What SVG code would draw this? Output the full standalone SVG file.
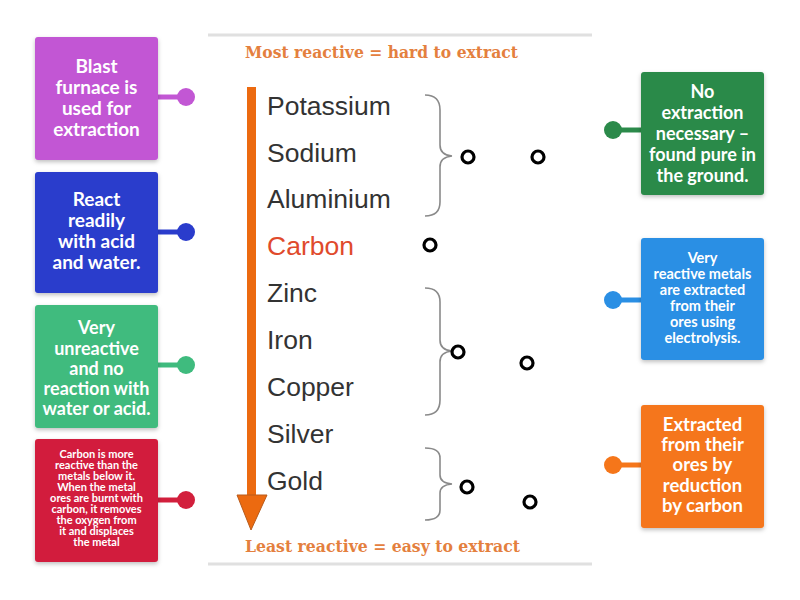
<svg xmlns="http://www.w3.org/2000/svg" width="800" height="600" viewBox="0 0 800 600">
<defs>
<filter id="sh" x="-10%" y="-10%" width="120%" height="125%"><feDropShadow dx="0" dy="2" stdDeviation="2" flood-color="#000" flood-opacity="0.25"/></filter>
</defs>
<style>
.box{filter:url(#sh)}
.bt{font-family:Lato,"Open Sans",sans-serif;font-weight:bold;fill:#fff;text-anchor:middle}
.el{font-family:"Liberation Sans",Arial,sans-serif;font-size:26.5px;fill:#333}
.hd{font-family:"DejaVu Serif","Liberation Serif",serif;font-weight:bold;font-size:16px;fill:#e4803e}
.br{fill:none;stroke:#8a8a8a;stroke-width:1.6}
.ring{fill:#fff;stroke:#000;stroke-width:3.2}
.con{stroke-width:5}
</style>
<rect width="800" height="600" fill="#fff"/>

<g id="panel">
<line x1="208" y1="35" x2="592" y2="35" stroke="#e0e0e0" stroke-width="3"/>
<line x1="208" y1="564" x2="592" y2="564" stroke="#e0e0e0" stroke-width="3"/>
<text class="hd" x="245" y="58" textLength="273" lengthAdjust="spacingAndGlyphs">Most reactive = hard to extract</text>
<text class="hd" x="245" y="552" textLength="275" lengthAdjust="spacingAndGlyphs">Least reactive = easy to extract</text>
<rect x="247" y="87" width="9" height="410" fill="#ec6a10"/>
<polygon points="237,495 267,495 251,530" fill="#ec6a10" stroke="#b85a1a" stroke-width="1"/>
<text class="el" x="267" y="115">Potassium</text>
<text class="el" x="267" y="162">Sodium</text>
<text class="el" x="267" y="208">Aluminium</text>
<text class="el" x="267" y="255" style="fill:#e04a2c">Carbon</text>
<text class="el" x="267" y="302">Zinc</text>
<text class="el" x="267" y="349">Iron</text>
<text class="el" x="267" y="396">Copper</text>
<text class="el" x="267" y="443">Silver</text>
<text class="el" x="267" y="490">Gold</text>
<path class="br" d="M425,95 Q440,95 440,110 L440,145 Q440,155 452,156 Q440,157 440,167 L440,202 Q440,216 425,216"/>
<path class="br" d="M425,288 Q440,288 440,302 L440,340 Q440,350 452,351 Q440,352 440,362 L440,400 Q440,415 425,415"/>
<path class="br" d="M425,448 Q440,448 440,458 L440,475 Q440,483 452,484 Q440,485 440,493 L440,510 Q440,520 425,520"/>
</g>

<g id="connectors">
<line class="con" x1="158" y1="97" x2="186" y2="97" stroke="#c257d4"/>
<line class="con" x1="158" y1="232" x2="186" y2="232" stroke="#2a3ccc"/>
<line class="con" x1="158" y1="365" x2="186" y2="365" stroke="#3fbb7e"/>
<line class="con" x1="158" y1="500" x2="186" y2="500" stroke="#d21f3c"/>
<line class="con" x1="613" y1="130" x2="641" y2="130" stroke="#2b8a4a"/>
<line class="con" x1="613" y1="300" x2="641" y2="300" stroke="#2a8fe4"/>
<line class="con" x1="613" y1="465" x2="641" y2="465" stroke="#f5761a"/>
</g>

<g id="n1"><rect class="box" x="35" y="37" width="123" height="123" rx="3" fill="#c257d4"/><circle cx="186" cy="97" r="9" fill="#c257d4"/>
<text class="bt" font-size="19"><tspan x="96.5" y="73">Blast</tspan><tspan x="96.5" y="94">furnace is</tspan><tspan x="96.5" y="115">used for</tspan><tspan x="96.5" y="136">extraction</tspan></text></g>

<g id="n2"><rect class="box" x="35" y="172" width="123" height="121" rx="3" fill="#2a3ccc"/><circle cx="186" cy="232" r="9" fill="#2a3ccc"/>
<text class="bt" font-size="19"><tspan x="96.5" y="206">React</tspan><tspan x="96.5" y="227">readily</tspan><tspan x="96.5" y="248">with acid</tspan><tspan x="96.5" y="269">and water.</tspan></text></g>

<g id="n3"><rect class="box" x="35" y="305" width="123" height="123" rx="3" fill="#3fbb7e"/><circle cx="186" cy="365" r="9" fill="#3fbb7e"/>
<text class="bt" font-size="18"><tspan x="96.5" y="334">Very</tspan><tspan x="96.5" y="355">unreactive</tspan><tspan x="96.5" y="375">and no</tspan><tspan x="96.5" y="395">reaction with</tspan><tspan x="96.5" y="415">water or acid.</tspan></text></g>

<g id="n4"><rect class="box" x="35" y="439" width="123" height="123" rx="3" fill="#d21f3c"/><circle cx="186" cy="500" r="9" fill="#d21f3c"/>
<text class="bt" font-size="11"><tspan x="96.5" y="458">Carbon is more</tspan><tspan x="96.5" y="469">reactive than the</tspan><tspan x="96.5" y="480">metals below it.</tspan><tspan x="96.5" y="491">When the metal</tspan><tspan x="96.5" y="502">ores are burnt with</tspan><tspan x="96.5" y="513">carbon, it removes</tspan><tspan x="96.5" y="524">the oxygen from</tspan><tspan x="96.5" y="535">it and displaces</tspan><tspan x="96.5" y="546">the metal</tspan></text></g>

<g id="n5"><rect class="box" x="641" y="72" width="123" height="123" rx="3" fill="#2b8a4a"/><circle cx="613" cy="130" r="9" fill="#2b8a4a"/>
<text class="bt" font-size="18"><tspan x="702.5" y="98">No</tspan><tspan x="702.5" y="119">extraction</tspan><tspan x="702.5" y="140">necessary –</tspan><tspan x="702.5" y="161">found pure in</tspan><tspan x="702.5" y="182">the ground.</tspan></text></g>

<g id="n6"><rect class="box" x="641" y="238" width="123" height="122" rx="3" fill="#2a8fe4"/><circle cx="613" cy="300" r="9" fill="#2a8fe4"/>
<text class="bt" font-size="14.5"><tspan x="702.5" y="263">Very</tspan><tspan x="702.5" y="279">reactive metals</tspan><tspan x="702.5" y="295">are extracted</tspan><tspan x="702.5" y="311">from their</tspan><tspan x="702.5" y="327">ores using</tspan><tspan x="702.5" y="343">electrolysis.</tspan></text></g>

<g id="n7"><rect class="box" x="641" y="405" width="123" height="123" rx="3" fill="#f5761a"/><circle cx="613" cy="465" r="9" fill="#f5761a"/>
<text class="bt" font-size="18.5"><tspan x="702.5" y="431">Extracted</tspan><tspan x="702.5" y="451">from their</tspan><tspan x="702.5" y="471">ores by</tspan><tspan x="702.5" y="492">reduction</tspan><tspan x="702.5" y="512">by carbon</tspan></text></g>

<g id="rings">
<circle class="ring" cx="468" cy="157" r="6"/>
<circle class="ring" cx="538" cy="157" r="6"/>
<circle class="ring" cx="430" cy="245" r="6"/>
<circle class="ring" cx="458" cy="352" r="6"/>
<circle class="ring" cx="527" cy="363" r="6"/>
<circle class="ring" cx="467" cy="487" r="6"/>
<circle class="ring" cx="530" cy="502" r="6"/>
</g>
</svg>
